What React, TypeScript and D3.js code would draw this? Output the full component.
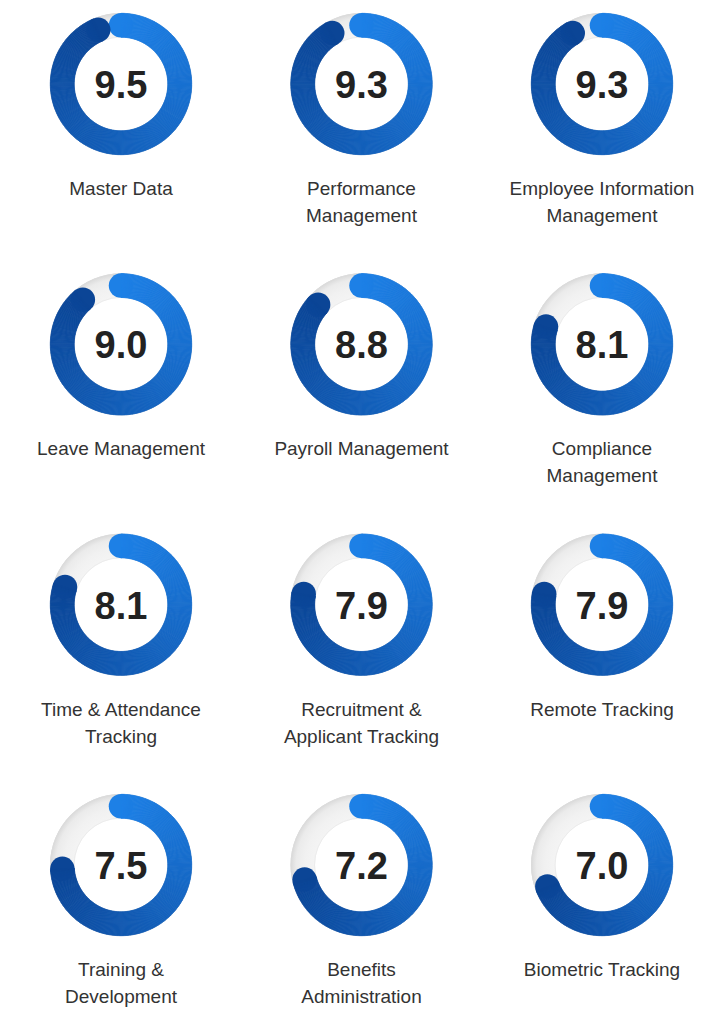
import React from "react";
import * as d3 from "d3";

const categories: string[][] = [
  ["Master Data"],
  ["Performance", "Management"],
  ["Employee Information", "Management"],
  ["Leave Management"],
  ["Payroll Management"],
  ["Compliance", "Management"],
  ["Time & Attendance", "Tracking"],
  ["Recruitment &", "Applicant Tracking"],
  ["Remote Tracking"],
  ["Training &", "Development"],
  ["Benefits", "Administration"],
  ["Biometric Tracking"],
];
const scores: number[] = [9.5, 9.3, 9.3, 9.0, 8.8, 8.1, 8.1, 7.9, 7.9, 7.5, 7.2, 7.0];
const scoreMax = 10;

const W = 728;
const H = 1024;
const COLS = 3;
const outerR = 71;
const innerR = 46.5;
const midR = (outerR + innerR) / 2;
const thick = outerR - innerR;
const FONT = "'Liberation Sans', Arial, Helvetica, sans-serif";

const colX = d3.scaleLinear().domain([0, 2]).range([121, 602]);
const rowY = d3.scaleLinear().domain([0, 3]).range([84, 865]);
const angle = d3.scaleLinear().domain([0, scoreMax]).range([0, (355 * Math.PI) / 180]);
const colorAt = d3.interpolateRgb("#1d80e6", "#0b4596");
const fmt = d3.format(".1f");

const ring = d3.arc<any>().innerRadius(innerR).outerRadius(outerR).startAngle(0).endAngle(2 * Math.PI);
const seg = d3.arc<any>().innerRadius(innerR + 0.3).outerRadius(outerR - 0.3);

function Donut({ value }: { value: number }) {
  const end = angle(value);
  const step = Math.PI / 180;
  const n = Math.ceil(end / step);
  const segs = d3.range(n).map((i) => {
    const a0 = (end * i) / n;
    const a1 = Math.min(end, (end * (i + 1)) / n + 0.004);
    return { a0, a1, t: (i + 0.5) / n };
  });
  const capPos = (a: number) => [midR * Math.sin(a), -midR * Math.cos(a)];
  const [sx, sy] = capPos(0);
  const [ex, ey] = capPos(end);
  return (
    <g>
      <path d={ring({}) || ""} fill="url(#trackGrad)" />
      <circle r={outerR - 0.5} fill="none" stroke="#dcdcdc" strokeWidth={1} />
      <circle r={innerR + 0.5} fill="none" stroke="#ececec" strokeWidth={1} />
      <circle cx={sx} cy={sy} r={thick / 2} fill={colorAt(0)} />
      <circle cx={ex} cy={ey} r={thick / 2} fill={colorAt(1)} />
      {segs.map((s, i) => {
        const c = colorAt(s.t);
        return (
          <path
            key={i}
            d={seg({ startAngle: s.a0, endAngle: s.a1 }) || ""}
            fill={c}
            stroke={c}
            strokeWidth={0.6}
            strokeLinejoin="round"
          />
        );
      })}
    </g>
  );
}

export default function App() {
  return (
    <svg
      width={W}
      height={H}
      viewBox={`0 0 ${W} ${H}`}
      style={{ position: "absolute", left: 0, top: 0, background: "#ffffff" }}
    >
      <defs>
        <radialGradient id="trackGrad" cx="0.5" cy="0.5" r="0.5">
          <stop offset={`${(innerR / outerR) * 100}%`} stopColor="#f4f4f4" />
          <stop offset="80%" stopColor="#f1f1f1" />
          <stop offset="92%" stopColor="#ebebeb" />
          <stop offset="100%" stopColor="#d9d9d9" />
        </radialGradient>
      </defs>
      <rect width={W} height={H} fill="#ffffff" />
      {scores.map((v, i) => {
        const cx = colX(i % COLS);
        const cy = rowY(Math.floor(i / COLS));
        return (
          <g key={i} transform={`translate(${cx},${cy})`}>
            <Donut value={v} />
            <text
              x={0}
              y={14}
              textAnchor="middle"
              fontFamily={FONT}
              fontWeight="bold"
              fontSize={38}
              fill="#222222"
            >
              {fmt(v)}
            </text>
            {categories[i].map((line, j) => (
              <text
                key={j}
                x={0}
                y={111 + j * 27}
                textAnchor="middle"
                fontFamily={FONT}
                fontSize={19}
                fill="#333333"
              >
                {line}
              </text>
            ))}
          </g>
        );
      })}
    </svg>
  );
}
